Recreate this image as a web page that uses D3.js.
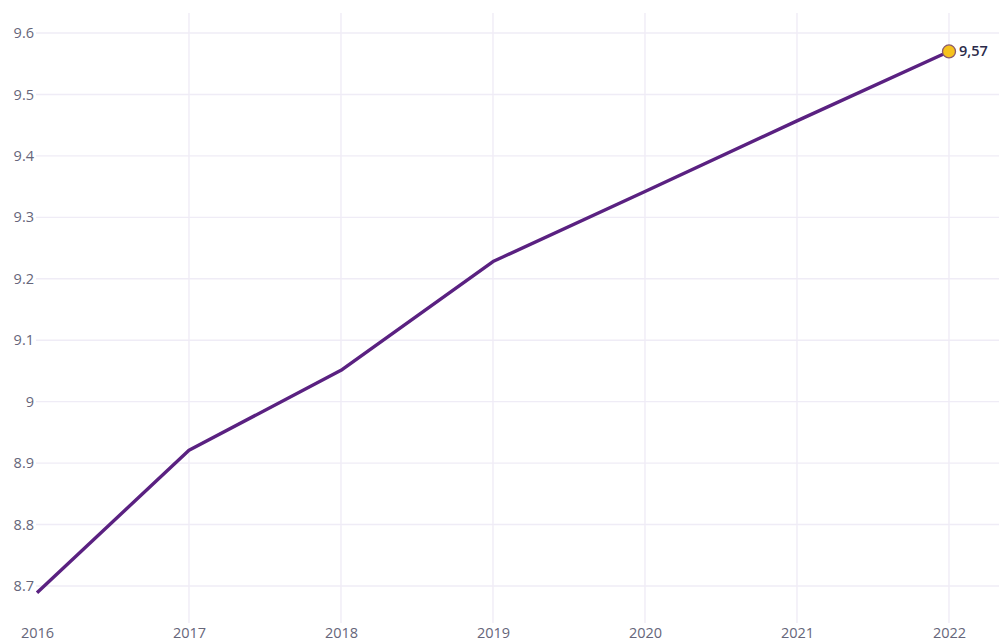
<!DOCTYPE html>
<html><head><meta charset="utf-8">
<script src="https://cdn.jsdelivr.net/npm/d3@7"></script>
<style>body{margin:0;background:#fff}svg{display:block;font-family:"Open Sans",sans-serif}</style>
</head><body><svg id="c" width="999" height="644"></svg>
<script>
const years = [2016, 2017, 2018, 2019, 2020, 2021, 2022];
const values = [8.689, 8.921, 9.051, 9.228, 9.342, 9.457, 9.57];
const yTicks = [8.7, 8.8, 8.9, 9, 9.1, 9.2, 9.3, 9.4, 9.5, 9.6];
const lastLabel = "9,57";

const svg = d3.select("#c");
const x = d3.scaleLinear().domain([2016, 2022]).range([37, 949]);
const y = d3.scaleLinear().domain([8.7, 9.6]).range([586, 33]);

const grid = svg.append("g");
grid.selectAll("line.h").data(yTicks).join("line")
  .attr("x1", 36).attr("x2", 999)
  .attr("y1", d => y(d)).attr("y2", d => y(d))
  .attr("stroke", "#efecf6").attr("stroke-width", 1.4);
grid.selectAll("line.v").data(years.slice(1)).join("line")
  .attr("x1", d => x(d)).attr("x2", d => x(d))
  .attr("y1", 13).attr("y2", 623)
  .attr("stroke", "#efecf6").attr("stroke-width", 1.4);

const yAxis = d3.axisLeft(y).tickValues(yTicks).tickSize(0).tickPadding(0)
  .tickFormat(d => d3.format("")(d));
const ya = svg.append("g").attr("transform", "translate(34,0)").call(yAxis);
ya.select(".domain").remove();
ya.selectAll("text").attr("font-size", 14.5).attr("fill", "#66667a").attr("font-family", "Open Sans");

const xAxis = d3.axisBottom(x).tickValues(years).tickSize(0).tickPadding(0).tickFormat(d3.format("d"));
const xa = svg.append("g").attr("transform", "translate(0,628)").call(xAxis);
xa.select(".domain").remove();
xa.selectAll("text").attr("font-size", 14.5).attr("fill", "#66667a").attr("font-family", "Open Sans");

const data = years.map((yr, i) => ({yr, v: values[i]}));
svg.append("path").datum(data)
  .attr("fill", "none").attr("stroke", "#5a2181").attr("stroke-width", 3.4)
  .attr("stroke-linejoin", "round")
  .attr("d", d3.line().x(d => x(d.yr)).y(d => y(d.v)));

const last = data[data.length - 1];
svg.append("circle").attr("cx", x(last.yr)).attr("cy", y(last.v)).attr("r", 6.5)
  .attr("fill", "#f6c21c").attr("stroke", "#8a5a6a").attr("stroke-width", 1.3);
svg.append("text").attr("x", x(last.yr) + 10).attr("y", y(last.v) + 5)
  .attr("font-size", 14.5).attr("fill", "#2b2b4a").attr("font-weight", 600).text(lastLabel);
</script></body></html>
